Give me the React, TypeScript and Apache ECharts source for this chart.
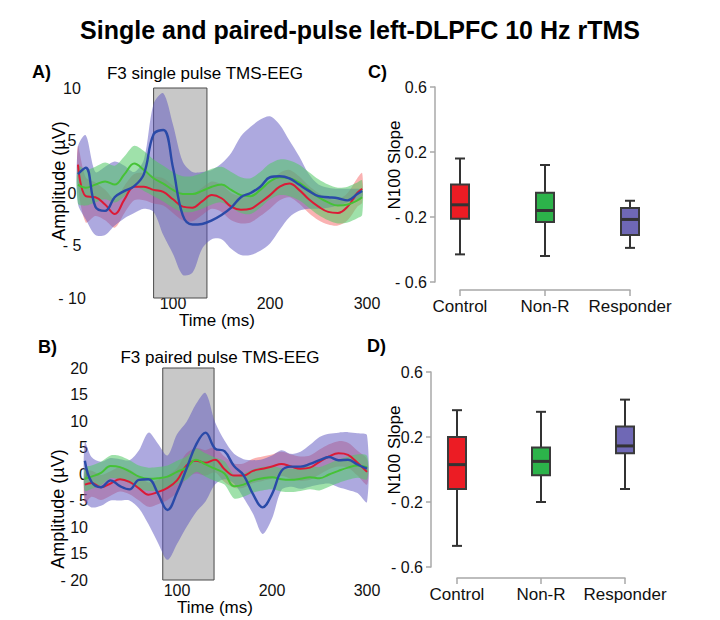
import React, { useEffect, useRef } from 'react';
import * as echarts from 'echarts';

const FONT = '"Liberation Sans", Arial, Helvetica, sans-serif';

// ---- TMS-EEG evoked potentials (µV), F3 electrode ----
const TIME_A = [2, 10, 20, 30, 40, 50, 60, 70, 80, 90, 100, 110, 120, 130, 140, 150, 160, 170, 180, 190, 200, 210, 220, 230, 240, 250, 260, 270, 280, 290, 295];

const CTRL_MEAN_A = [2.7, -0.3, -0.4, -1.1, -2.0, -0.6, 0.6, 0.6, 0.3, 0.1, -0.6, -1.3, -1.4, -0.8, -0.2, -0.5, -1.3, -1.6, -1.5, -0.9, -0.2, 0.6, 0.9, 0.3, -0.6, -1.3, -1.8, -1.9, -1.3, 0.0, 0.4];
const CTRL_HI_A = [4.5, 1.5, 1.0, 0.3, -0.6, 0.7, 1.8, 1.9, 1.6, 1.4, 0.7, 0.0, -0.1, 0.5, 1.1, 0.8, 0.0, -0.3, -0.2, 0.4, 1.1, 1.9, 2.2, 1.6, 0.7, 0.0, -0.5, -0.6, 0.0, 1.4, 1.9];
const CTRL_LO_A = [0.8, -2.8, -2.2, -2.6, -3.3, -1.9, -0.7, -0.7, -1.0, -1.2, -1.9, -2.6, -2.7, -2.1, -1.5, -1.8, -2.6, -2.9, -2.8, -2.2, -1.5, -0.7, -0.4, -1.0, -1.9, -2.6, -3.0, -3.1, -2.6, -1.3, -0.9];

const NONR_MEAN_A = [0.8, 0.5, 0.8, 1.1, 0.8, 1.8, 2.8, 2.2, 1.4, 0.9, 0.3, -0.1, -0.1, 0.2, 0.6, 0.8, 0.3, -0.2, -0.3, 0.3, 1.1, 1.5, 1.4, 1.0, 0.3, -0.4, -0.9, -1.2, -1.1, -0.7, -0.4];
const NONR_HI_A = [2.6, 2.2, 2.5, 2.9, 2.6, 3.5, 4.5, 4.0, 3.2, 2.6, 2.0, 1.6, 1.6, 1.9, 2.3, 2.5, 2.0, 1.5, 1.4, 2.0, 2.8, 3.2, 3.1, 2.7, 2.0, 1.3, 0.8, 0.5, 0.6, 1.0, 1.2];
const NONR_LO_A = [-1.0, -1.2, -0.9, -0.6, -0.9, -0.3, 0.6, 0.2, -0.3, -0.8, -1.4, -1.8, -1.8, -1.5, -1.1, -0.9, -1.4, -1.9, -2.0, -1.4, -0.6, -0.2, -0.3, -0.7, -1.4, -2.1, -2.6, -2.9, -2.8, -2.4, -2.1];

const RESP_MEAN_A = [1.8, 2.4, -1.3, -1.7, -0.4, 0.2, 0.65, 1.8, 5.6, 6.0, 2.4, -2.1, -3.0, -2.95, -2.6, -2.1, -1.4, -0.4, 0.0, 0.6, 1.5, 1.6, 1.4, 0.8, 0.2, -0.3, -0.4, -0.5, -0.7, -0.1, 0.2];
const RESP_HI_A = [4.4, 5.5, 2.0, 2.5, 3.0, 2.6, 2.0, 3.2, 8.5, 9.5, 6.5, 3.0, 2.0, 2.0, 2.2, 2.8, 3.8, 5.4, 6.3, 7.0, 7.3, 6.5, 5.0, 3.5, 1.8, 0.8, 0.5, 0.4, 0.4, 0.4, 0.3];
const RESP_LO_A = [-1.0, -2.5, -4.0, -4.0, -3.1, -2.4, -1.9, -1.5, -1.8, -4.0, -5.8, -7.8, -7.6, -5.3, -4.4, -4.4, -5.3, -5.9, -5.9, -5.5, -4.8, -3.5, -2.3, -1.7, -1.5, -1.5, -1.4, -1.2, -0.9, -0.6, -0.4];

const TIME_B = [3, 10, 20, 30, 40, 50, 60, 70, 80, 90, 100, 110, 120, 130, 140, 150, 160, 170, 180, 190, 200, 210, 220, 230, 240, 250, 260, 270, 280, 290, 300];

const CTRL_MEAN_B = [-2.0, -1.7, -2.5, -1.8, -1.0, -1.5, -2.7, -3.9, -3.4, -2.6, -1.2, 1.6, 2.5, 2.1, 2.7, 0.9, -0.3, -0.3, 0.6, 1.0, 1.4, 1.9, 1.4, 1.0, 1.2, 2.3, 3.3, 3.9, 3.6, 2.1, 0.4];
const CTRL_HI_B = [0.5, 0.6, -0.2, 0.5, 1.3, 0.8, -0.4, -1.6, -1.1, -0.3, 1.1, 3.9, 4.9, 4.5, 5.0, 3.3, 2.0, 2.0, 2.9, 3.3, 3.7, 4.2, 3.7, 3.3, 3.5, 4.6, 5.6, 6.2, 5.9, 4.4, 2.8];
const CTRL_LO_B = [-5.5, -4.3, -4.9, -4.1, -3.3, -3.8, -5.0, -6.2, -5.7, -4.9, -3.5, -0.8, 0.1, -0.3, 0.3, -1.5, -2.6, -2.6, -1.7, -1.3, -0.9, -0.4, -0.9, -1.3, -1.1, -0.1, 0.9, 1.4, 1.2, -0.3, -2.0];

const NONR_MEAN_B = [-0.9, -0.5, 0.2, 1.5, 1.3, 0.5, -0.5, -0.9, -0.8, -0.5, 0.4, 1.2, 2.7, 1.8, 1.0, 0.1, -2.3, -2.0, -1.2, -0.8, -0.6, -1.0, -1.1, -0.9, -0.6, -0.8, -0.1, 0.6, 1.2, 1.6, 1.3];
const NONR_HI_B = [1.2, 1.6, 2.3, 3.5, 3.4, 2.6, 1.6, 1.2, 1.3, 1.6, 2.5, 3.3, 4.8, 3.9, 3.1, 2.4, -0.1, 0.1, 0.9, 1.3, 1.5, 1.1, 1.0, 1.2, 1.5, 1.3, 2.0, 2.7, 3.3, 3.7, 3.4];
const NONR_LO_B = [-3.2, -2.8, -2.1, -0.8, -1.0, -1.8, -2.8, -3.2, -3.1, -2.8, -1.9, -1.1, 0.4, -0.5, -1.3, -2.0, -4.6, -4.3, -3.5, -3.1, -2.9, -3.3, -3.4, -3.2, -2.9, -3.1, -2.4, -1.7, -1.1, -0.7, -1.0];

const RESP_MEAN_B = [2.5, -1.5, -2.5, -1.2, -2.3, -2.9, -1.1, -1.0, -3.7, -6.8, -3.5, 1.0, 5.5, 7.8, 4.8, 4.3, 1.5, -0.2, -3.8, -6.3, -3.8, 0.6, 1.4, 1.4, 1.9, 2.6, 3.2, 2.6, 2.7, 1.8, 1.0];
const RESP_HI_B = [6.0, 3.2, 2.3, 3.0, 2.8, 2.6, 4.5, 7.8, 5.7, 3.5, 7.5, 9.8, 13.2, 15.3, 9.8, 6.3, 3.8, 2.8, 2.6, 2.8, 3.5, 4.5, 3.8, 4.2, 5.5, 7.0, 7.6, 7.8, 7.9, 7.7, 7.3];
const RESP_LO_B = [-5.0, -6.3, -6.0, -5.0, -5.0, -5.0, -6.5, -9.5, -13.0, -16.2, -13.2, -10.0, -7.2, -5.2, -2.0, -1.0, -1.8, -4.5, -7.5, -11.3, -8.4, -3.0, -2.4, -2.8, -2.4, -2.0, -1.8, -2.5, -3.0, -3.6, -5.3];

// N100 analysis windows (ms)
const WINDOW_A = [80, 135];
const WINDOW_B = [85, 139];

// ---- N100 slope box plots ----
const GROUPS = ['Control', 'Non-R', 'Responder'];
const GROUP_COLORS = ['#ec1c24', '#2cb34a', '#6f68b5'];

const C_MIN = [-0.43, -0.44, -0.39];
const C_Q1 = [-0.21, -0.23, -0.31];
const C_MED = [-0.125, -0.16, -0.215];
const C_Q3 = [0.0, -0.05, -0.145];
const C_MAX = [0.16, 0.12, -0.1];

const D_MIN = [-0.47, -0.2, -0.12];
const D_Q1 = [-0.12, -0.035, 0.1];
const D_MED = [0.03, 0.05, 0.145];
const D_Q3 = [0.2, 0.135, 0.265];
const D_MAX = [0.365, 0.355, 0.43];

const AMP_TICKS_A = { min: -10, max: 10, interval: 5 };
const AMP_TICKS_B = { min: -20, max: 20, interval: 5 };
const SLOPE_TICKS = { min: -0.6, max: 0.6, interval: 0.4 };

const RED_LINE = '#dc1a36';
const GREEN_LINE = '#46c236';
const BLUE_LINE = '#2a4aa8';
const RED_BAND = 'rgba(245, 85, 85, 0.45)';
const GREEN_BAND = 'rgba(80, 200, 100, 0.55)';
const PURPLE_BAND = 'rgba(92, 84, 192, 0.5)';

const pairs = (t: number[], v: number[]) => t.map((x, i) => [x, v[i]]);

// Shaded confidence band: one smooth closed polygon from the upper edge
// (left to right) and the lower edge (right to left).
function bandSeries(t: number[], lo: number[], hi: number[], color: string, axis: number) {
  return {
    type: 'custom', xAxisIndex: axis, yAxisIndex: axis, silent: true,
    data: t.map((x, i) => [x, lo[i], hi[i]]),
    encode: { x: 0, y: [1, 2] },
    renderItem: (params: any, api: any) => {
      if (params.dataIndex !== 0) return null;
      const upper = t.map((x, i) => api.coord([x, hi[i]]));
      const lower = t.map((x, i) => api.coord([x, lo[i]])).reverse();
      return {
        type: 'polygon',
        shape: { points: upper.concat(lower), smooth: 0.3 },
        style: { fill: color },
      };
    },
  };
}

function meanSeries(t: number[], v: number[], color: string, axis: number, width: number, extra: any = {}) {
  return {
    type: 'line', xAxisIndex: axis, yAxisIndex: axis, data: pairs(t, v),
    smooth: 0.4, symbol: 'none', silent: true,
    lineStyle: { color, width },
    ...extra,
  };
}

function windowArea(win: number[]) {
  return {
    markArea: {
      silent: true,
      z: 1,
      label: { show: false },
      itemStyle: { color: '#c8c8c8', borderColor: '#4a4a4a', borderWidth: 1 },
      data: [[{ xAxis: win[0] }, { xAxis: win[1] }]],
    },
  };
}

function eegSeries(axis: number, t: number[], d: any, win: number[]) {
  return [
    bandSeries(t, d.ctrlLo, d.ctrlHi, RED_BAND, axis),
    meanSeries(t, d.ctrlMean, RED_LINE, axis, 2, windowArea(win)),
    bandSeries(t, d.respLo, d.respHi, PURPLE_BAND, axis),
    bandSeries(t, d.nonrLo, d.nonrHi, GREEN_BAND, axis),
    meanSeries(t, d.nonrMean, GREEN_LINE, axis, 2),
    meanSeries(t, d.respMean, BLUE_LINE, axis, 2.4),
  ];
}

function boxSeries(axis: number, mins: number[], q1: number[], med: number[], q3: number[], maxs: number[]) {
  return {
    type: 'custom', xAxisIndex: axis, yAxisIndex: axis, silent: true,
    data: GROUPS.map((_, i) => [i, mins[i], q1[i], med[i], q3[i], maxs[i]]),
    encode: { x: 0, y: [1, 2, 3, 4, 5] },
    renderItem: (params: any, api: any) => {
      const i = api.value(0);
      const pMin = api.coord([i, api.value(1)]);
      const pQ1 = api.coord([i, api.value(2)]);
      const pMed = api.coord([i, api.value(3)]);
      const pQ3 = api.coord([i, api.value(4)]);
      const pMax = api.coord([i, api.value(5)]);
      const cx = pMin[0];
      const hw = 9;
      const cw = 5;
      const dark = '#333333';
      return {
        type: 'group',
        children: [
          { type: 'line', shape: { x1: cx, y1: pMax[1], x2: cx, y2: pMin[1] }, style: { stroke: dark, lineWidth: 2 } },
          { type: 'line', shape: { x1: cx - cw, y1: pMax[1], x2: cx + cw, y2: pMax[1] }, style: { stroke: dark, lineWidth: 2 } },
          { type: 'line', shape: { x1: cx - cw, y1: pMin[1], x2: cx + cw, y2: pMin[1] }, style: { stroke: dark, lineWidth: 2 } },
          {
            type: 'rect',
            shape: { x: cx - hw, y: pQ3[1], width: hw * 2, height: pQ1[1] - pQ3[1] },
            style: { fill: GROUP_COLORS[i], stroke: '#3a3a3a', lineWidth: 2 },
          },
          { type: 'line', shape: { x1: cx - hw, y1: pMed[1], x2: cx + hw, y2: pMed[1] }, style: { stroke: dark, lineWidth: 3 } },
        ],
      };
    },
  };
}

const tickText = { fontFamily: FONT, fontSize: 16, color: '#111' };
const signed = (v: number, digits: number) => {
  const s = Math.abs(v).toFixed(digits);
  return v < -1e-9 ? '- ' + s : s;
};

function timeAxis(grid: number, margin: number) {
  return {
    type: 'value', gridIndex: grid, min: 0, max: 300, interval: 100,
    axisLine: { show: false }, axisTick: { show: false }, splitLine: { show: false },
    axisLabel: { ...tickText, margin, formatter: (v: number) => (v === 0 ? '' : String(v)) },
  };
}

function ampAxis(grid: number, ticks: any, align: string, margin: number) {
  return {
    type: 'value', gridIndex: grid, ...ticks,
    axisLine: { show: false }, axisTick: { show: false }, splitLine: { show: false },
    axisLabel: { ...tickText, align, margin, formatter: (v: number) => signed(v, 0) },
  };
}

function groupAxis(grid: number, offset: number) {
  return {
    type: 'category', gridIndex: grid, data: GROUPS, boundaryGap: false, offset,
    axisLine: { onZero: false, lineStyle: { color: '#a8a8a8', width: 1.5 } },
    axisTick: { length: 6, lineStyle: { color: '#a8a8a8', width: 1.5 } },
    axisLabel: { fontFamily: FONT, fontSize: 17, color: '#111', margin: 8, interval: 0 },
    splitLine: { show: false },
  };
}

function slopeAxis(grid: number, offset: number) {
  return {
    type: 'value', gridIndex: grid, ...SLOPE_TICKS, offset,
    axisLine: { show: true, onZero: false, lineStyle: { color: '#a8a8a8', width: 1.5 } },
    axisTick: { show: true, length: 5, lineStyle: { color: '#a8a8a8', width: 1.5 } },
    axisLabel: { ...tickText, margin: 8, formatter: (v: number) => signed(v, 1) },
    splitLine: { show: false },
  };
}

function label(text: string, x: number, y: number, size: number, opts: any = {}) {
  return {
    type: 'text', x, y, rotation: opts.rotation || 0, silent: true,
    style: {
      text, fontFamily: FONT, fontSize: size, fontWeight: opts.bold ? 'bold' : 'normal',
      fill: '#000', align: opts.align || 'center', verticalAlign: 'middle',
    },
  };
}

export default function App() {
  const ref = useRef<HTMLDivElement>(null);

  useEffect(() => {
    document.body.style.margin = '0';
    const chart = echarts.init(ref.current!, null, { renderer: 'svg' });

    const dataA = {
      ctrlMean: CTRL_MEAN_A, ctrlHi: CTRL_HI_A, ctrlLo: CTRL_LO_A,
      nonrMean: NONR_MEAN_A, nonrHi: NONR_HI_A, nonrLo: NONR_LO_A,
      respMean: RESP_MEAN_A, respHi: RESP_HI_A, respLo: RESP_LO_A,
    };
    const dataB = {
      ctrlMean: CTRL_MEAN_B, ctrlHi: CTRL_HI_B, ctrlLo: CTRL_LO_B,
      nonrMean: NONR_MEAN_B, nonrHi: NONR_HI_B, nonrLo: NONR_LO_B,
      respMean: RESP_MEAN_B, respHi: RESP_HI_B, respLo: RESP_LO_B,
    };

    chart.setOption({
      animation: false,
      backgroundColor: '#ffffff',
      grid: [
        { left: 76, top: 88, width: 291, height: 210 },
        { left: 82, top: 368, width: 285, height: 212 },
        { left: 460, top: 87, width: 170, height: 195 },
        { left: 457, top: 372, width: 168, height: 195 },
      ],
      xAxis: [timeAxis(0, -3), timeAxis(1, 2), groupAxis(2, 8), groupAxis(3, 11)],
      yAxis: [
        ampAxis(0, AMP_TICKS_A, 'center', 4),
        ampAxis(1, AMP_TICKS_B, 'right', -6),
        slopeAxis(2, 25),
        slopeAxis(3, 26),
      ],
      series: [
        ...eegSeries(0, TIME_A, dataA, WINDOW_A),
        ...eegSeries(1, TIME_B, dataB, WINDOW_B),
        boxSeries(2, C_MIN, C_Q1, C_MED, C_Q3, C_MAX),
        boxSeries(3, D_MIN, D_Q1, D_MED, D_Q3, D_MAX),
      ],
      graphic: [
        label('Single and paired-pulse left-DLPFC 10 Hz rTMS', 360, 30, 25, { bold: true }),
        label('A)', 32, 72, 18, { bold: true, align: 'left' }),
        label('B)', 38, 347, 18, { bold: true, align: 'left' }),
        label('C)', 368, 72, 18, { bold: true, align: 'left' }),
        label('D)', 367, 346, 18, { bold: true, align: 'left' }),
        label('F3 single pulse TMS-EEG', 205, 73, 17),
        label('F3 paired pulse TMS-EEG', 220, 357, 17),
        label('Amplitude (µV)', 59, 181, 18, { rotation: Math.PI / 2 }),
        label('Amplitude (µV)', 58, 509, 18, { rotation: Math.PI / 2 }),
        label('Time (ms)', 217, 320, 17),
        label('Time (ms)', 215, 607, 17),
        label('N100 Slope', 394, 165, 17, { rotation: Math.PI / 2 }),
        label('N100 Slope', 394, 450, 17, { rotation: Math.PI / 2 }),
      ],
    });

    return () => chart.dispose();
  }, []);

  return <div ref={ref} style={{ width: 720, height: 620, background: '#fff' }} />;
}
